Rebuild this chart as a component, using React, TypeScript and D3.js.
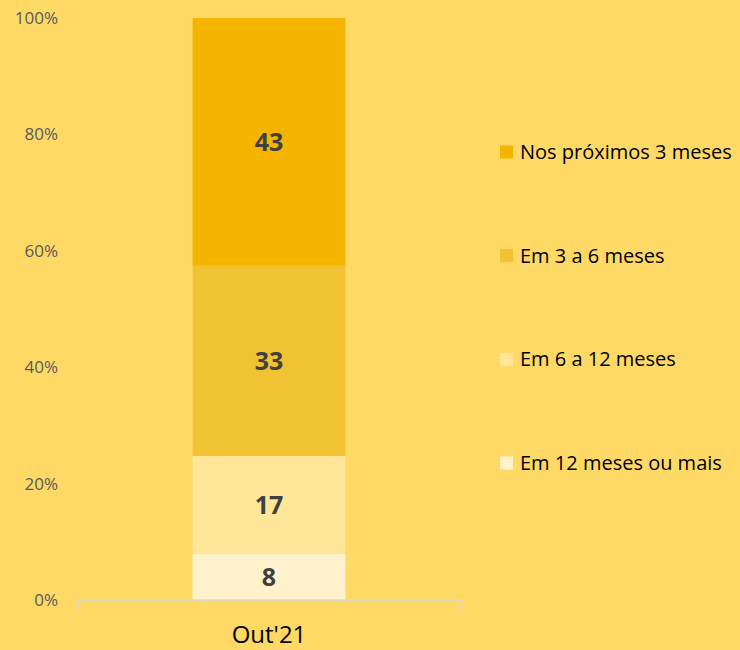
import * as d3 from "d3";

const categories = ["Out'21"];
const seriesNames = ["Em 12 meses ou mais", "Em 6 a 12 meses", "Em 3 a 6 meses", "Nos próximos 3 meses"];
const seriesValues = [[8], [17], [33], [43]];
const seriesColors = ["#FFF2CC", "#FFE699", "#F1C232", "#F4B400"];
const yTicks = [0, 0.2, 0.4, 0.6, 0.8, 1];
const legendOrder = [3, 2, 1, 0];

const font = "'Open Sans', sans-serif";

export default function App() {
  const width = 740;
  const height = 650;
  const plot = { left: 78, right: 460, top: 18, bottom: 600 };

  const rows = categories.map((c, i) => {
    const r: Record<string, any> = { cat: c };
    seriesNames.forEach((s, j) => (r[s] = seriesValues[j][i]));
    return r;
  });
  const stacked = d3.stack<any>().keys(seriesNames).offset(d3.stackOffsetExpand)(rows);

  const x = d3.scaleBand().domain(categories).range([plot.left, plot.right]).paddingInner(0.6).paddingOuter(0.3);
  const y = d3.scaleLinear().domain([0, 1]).range([plot.bottom, plot.top]);
  const legendY = d3.scalePoint<number>().domain(legendOrder).range([152, 463]);

  return (
    <svg width={width} height={height} style={{ position: "absolute", left: 0, top: 0, display: "block" }}>
      <rect width={width} height={height} fill="#FFD966" />
      {yTicks.map((t) => (
        <text key={t} x={58} y={y(t)} dy="0.35em" textAnchor="end" fill="#595959" fontSize={17} fontFamily={font}>
          {d3.format(".0%")(t)}
        </text>
      ))}
      {stacked.map((layer, j) =>
        layer.map((d, i) => {
          const cat = categories[i];
          const x0 = x(cat) ?? 0;
          const y0 = y(d[1]);
          const y1 = y(d[0]);
          return (
            <g key={seriesNames[j] + cat}>
              <rect x={x0} y={y0} width={x.bandwidth()} height={y1 - y0} fill={seriesColors[j]} />
              <text
                x={x0 + x.bandwidth() / 2}
                y={(y0 + y1) / 2}
                dy="0.36em"
                textAnchor="middle"
                fill="#404040"
                fontSize={25}
                fontWeight="bold"
                fontFamily={font}
              >
                {seriesValues[j][i]}
              </text>
            </g>
          );
        })
      )}
      <path
        d={`M${plot.left},${plot.bottom + 9}V${plot.bottom}H${plot.right}V${plot.bottom + 9}`}
        fill="none"
        stroke="#D9D9D9"
        strokeWidth={1.5}
      />
      {categories.map((c) => (
        <text key={c} x={(x(c) ?? 0) + x.bandwidth() / 2} y={643} textAnchor="middle" fill="#000" fontSize={24} fontFamily={font}>
          {c}
        </text>
      ))}
      {legendOrder.map((j) => (
        <g key={seriesNames[j]} transform={`translate(500, ${legendY(j)})`}>
          <rect x={0} y={-6.5} width={13} height={13} fill={seriesColors[j]} />
          <text x={20} y={0} dy="0.35em" fill="#000" fontSize={20} fontFamily={font}>
            {seriesNames[j]}
          </text>
        </g>
      ))}
    </svg>
  );
}
